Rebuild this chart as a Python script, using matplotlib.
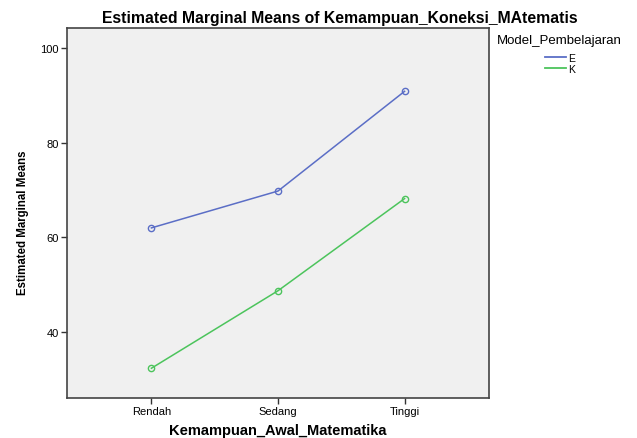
import matplotlib
matplotlib.use('Agg')
import matplotlib.pyplot as plt
from matplotlib.lines import Line2D

plt.rcParams['font.family'] = ['Liberation Sans', 'DejaVu Sans']

# data
categories = ['Rendah', 'Sedang', 'Tinggi']
means_E = [62.0, 69.8, 90.9]
means_K = [32.3, 48.7, 68.2]
y_ticks = [40, 60, 80, 100]

col_E = '#5b6ec6'
col_K = '#4cc45c'

fig = plt.figure(figsize=(6.37, 4.39), dpi=100)
W, H = 637, 439
ax = fig.add_axes([67 / W, 1 - 399 / H, (489 - 67) / W, (399 - 29) / H])
ax.set_facecolor('#f0f0f0')

x = list(range(len(categories)))
ax.plot(x, means_E, color=col_E, lw=1.1, marker='o', ms=4.5, mfc='none', mew=1.0)
ax.plot(x, means_K, color=col_K, lw=1.1, marker='o', ms=4.5, mfc='none', mew=1.0)

ax.set_xlim(-0.667, 2.667)
ax.set_ylim(26, 104.3)
ax.set_xticks(x)
ax.set_xticklabels(categories)
ax.set_yticks(y_ticks)
ax.tick_params(labelsize=8, length=4, width=1, color='#333333', pad=2)
for s in ax.spines.values():
    s.set_color('#444444')
    s.set_linewidth(1.2)

ax.set_xlabel('Kemampuan_Awal_Matematika', fontsize=10.5, fontweight='bold')
ax.xaxis.set_label_coords((278 - 67) / 422, -(424 - 399) / 370)
ax.set_ylabel('Estimated Marginal Means', fontsize=8.3, fontweight='bold')
ax.yaxis.set_label_coords((29 - 67) / 422, (399 - 223) / 370)

fig.text(340 / W, 1 - 18 / H, 'Estimated Marginal Means of Kemampuan_Koneksi_MAtematis',
         ha='center', va='center', fontsize=11.3, fontweight='bold')

# legend outside on the right
fig.text(497 / W, 1 - 41 / H, 'Model_Pembelajaran', ha='left', va='center', fontsize=9.5)
handles = [Line2D([], [], color=col_E, lw=1.3), Line2D([], [], color=col_K, lw=1.3)]
fig.legend(handles, ['E', 'K'], loc='upper left', bbox_to_anchor=(545 / W, 1 - 54 / H),
           frameon=False, fontsize=7.5, handlelength=2.0, handletextpad=0.25,
           labelspacing=0.1, borderpad=0, borderaxespad=0)

fig.savefig('out.png', dpi=100)
